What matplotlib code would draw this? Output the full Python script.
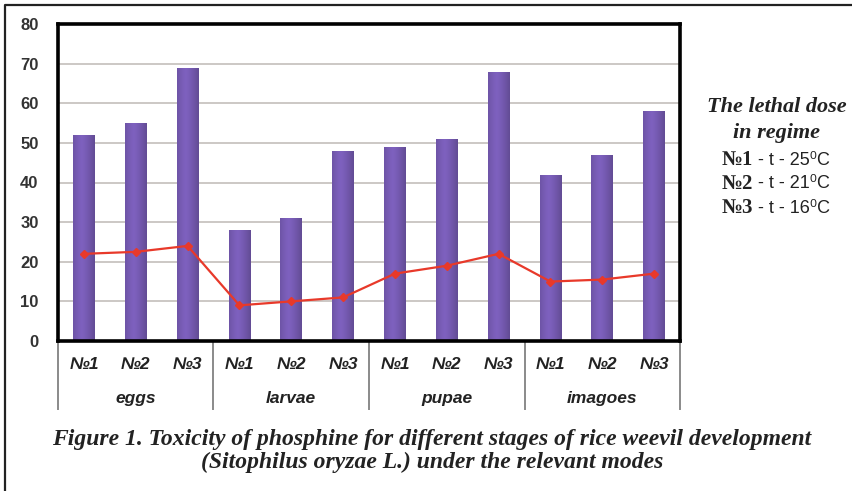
import matplotlib.pyplot as plt
import numpy as np
from matplotlib.lines import Line2D

stages = ["eggs", "larvae", "pupae", "imagoes"]
modes = ["№1", "№2", "№3"]
# lethal dose bars per stage and regime
bar_values = [52, 55, 69, 28, 31, 48, 49, 51, 68, 42, 47, 58]
# red line values
line_values = [22, 22.5, 24, 9, 10, 11, 17, 19, 22, 15, 15.5, 17]
regime_temps = ["25", "21", "16"]

fig = plt.figure(figsize=(8.53, 4.91), dpi=100)
W, H = 853, 491

# outer frame: only the top and left edges show
fig.lines.append(Line2D([5 / W, 5 / W, 1], [0, 1 - 5 / H, 1 - 5 / H], transform=fig.transFigure,
                        color="#222222", linewidth=1.6))

ax = fig.add_axes([58 / W, 1 - 341 / H, 622 / W, 317 / H])
x = np.arange(len(bar_values))
bars = ax.bar(x, bar_values, width=0.42, color="#6a4f9e", zorder=2)

# shaded look of the columns
grad = np.linspace(0, 1, 64)
shade = 1 - 0.55 * np.abs(grad - 0.4) ** 1.3 * 2
cmap_img = np.zeros((1, 64, 3))
base = np.array([0.43, 0.33, 0.65])
for i in range(3):
    cmap_img[0, :, i] = np.clip(base[i] * (0.7 + 0.45 * shade), 0, 1)
for b in bars:
    bx, by = b.get_x(), b.get_y()
    bw, bh = b.get_width(), b.get_height()
    im = ax.imshow(cmap_img, extent=[bx, bx + bw, by, by + bh], aspect="auto", zorder=3)
    im.set_clip_path(b)

ax.plot(x, line_values, color="#e8392a", linewidth=1.6, marker="D", markersize=4.5,
        markeredgecolor="#e8392a", zorder=4)

ax.set_xlim(-0.5, len(bar_values) - 0.5)
ax.set_ylim(0, 80)
ax.set_yticks(range(0, 81, 10))
ax.set_yticklabels([str(v) for v in range(0, 81, 10)], fontsize=12, fontweight="bold",
                   color="#333333", family="Liberation Sans")
ax.tick_params(axis="y", length=0, pad=14)
ax.set_xticks([])
ax.grid(axis="y", color="#c8c4c0", linewidth=1.3, zorder=0)
ax.set_axisbelow(True)
for s in ax.spines.values():
    s.set_linewidth(2.6)
    s.set_color("black")
ax.spines["bottom"].set_zorder(5)

# category labels below the axis
trans = ax.get_xaxis_transform()
for i in x:
    ax.text(i, -0.075, modes[i % 3], transform=trans, ha="center", va="center",
            fontsize=12.5, fontweight="bold", style="italic", color="#222222",
            family=["Liberation Sans", "DejaVu Sans"])
for g, name in enumerate(stages):
    ax.text(g * 3 + 1, -0.18, name, transform=trans, ha="center", va="center",
            fontsize=12.5, fontweight="bold", style="italic", color="#222222",
            family="Liberation Sans")
for g in range(len(stages) + 1):
    ax.plot([g * 3 - 0.5] * 2, [0, -0.215], transform=trans, color="#8a8a8a",
            linewidth=1.4, clip_on=False)

# regime legend on the right
fig.text(777 / W, 1 - 107 / H, "The lethal dose", ha="center", va="center", fontsize=16,
         fontweight="bold", style="italic", family="Liberation Serif", color="#222222")
fig.text(777 / W, 1 - 133 / H, "in regime", ha="center", va="center", fontsize=16,
         fontweight="bold", style="italic", family="Liberation Serif", color="#222222")
for k, t in enumerate(regime_temps):
    yy = 1 - (160 + 24 * k) / H
    fig.text(753 / W, yy, modes[k], ha="right", va="center", fontsize=15, fontweight="bold",
             family=["Liberation Serif", "DejaVu Serif"], color="#222222")
    fig.text(753 / W, yy, " - t - " + t + "\u2070C", ha="left", va="center", fontsize=13,
             family=["Liberation Sans", "DejaVu Sans"], color="#222222")

# caption
fig.text(432 / W, 1 - 440 / H,
         "Figure 1. Toxicity of phosphine for different stages of rice weevil development",
         ha="center", va="center", fontsize=17, fontweight="bold", style="italic",
         family="Liberation Serif", color="#222222")
fig.text(432 / W, 1 - 462 / H, "(Sitophilus oryzae L.) under the relevant modes",
         ha="center", va="center", fontsize=17, fontweight="bold", style="italic",
         family="Liberation Serif", color="#222222")

fig.savefig("out.png", dpi=100)
